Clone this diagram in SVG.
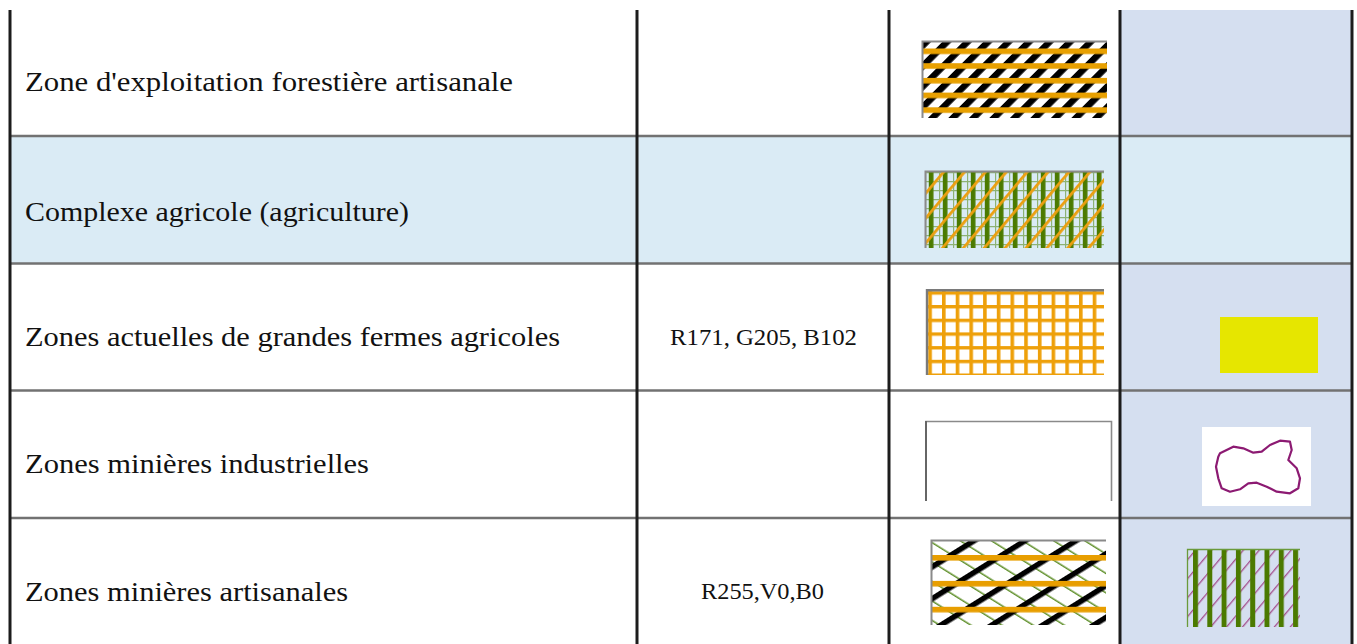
<svg xmlns="http://www.w3.org/2000/svg" width="1357" height="644" viewBox="0 0 1357 644">
<style>
.lbl{font-family:"Liberation Serif","Times New Roman",serif;font-size:28px;fill:#111}
.code{font-family:"Liberation Serif","Times New Roman",serif;font-size:24px;fill:#111}
.vline{stroke:#1c1c1c;stroke-width:3}
.hline{stroke:#727272;stroke-width:2.5}
.gb{stroke:#8a8a8a;stroke-width:2;fill:none}
</style>
<defs>
<pattern id="p1diag" patternUnits="userSpaceOnUse" width="14.5" height="10" patternTransform="rotate(45)"><rect width="6.5" height="10" fill="#000"/></pattern>
<pattern id="p1band" patternUnits="userSpaceOnUse" x="0" y="48.5" width="10" height="14.7"><rect width="10" height="5.6" fill="#e8a000"/></pattern>
<pattern id="p2grid" patternUnits="userSpaceOnUse" x="925" y="172" width="7" height="9"><path d="M0 0.6H7M0.6 0V9" stroke="#8db274" stroke-width="1.2" fill="none"/></pattern>
<pattern id="p2bar" patternUnits="userSpaceOnUse" x="928.8" y="0" width="14" height="10"><rect width="4.6" height="10" fill="#4b7a00"/></pattern>
<pattern id="p2diag" patternUnits="userSpaceOnUse" width="16" height="10" patternTransform="rotate(40)"><rect width="2.8" height="10" fill="#ec9f10"/></pattern>
<pattern id="p3grid" patternUnits="userSpaceOnUse" x="928.3" y="291.3" width="13.7" height="13.7"><rect width="3.6" height="13.7" fill="#eea00a"/><rect width="13.7" height="3.4" fill="#eea00a"/></pattern>
<pattern id="p5green" patternUnits="userSpaceOnUse" width="16.5" height="10" patternTransform="rotate(-58)"><rect width="1.5" height="10" fill="#5f8f2a"/></pattern>
<pattern id="p5black" patternUnits="userSpaceOnUse" width="27" height="10" patternTransform="rotate(58)"><rect width="5.5" height="10" fill="#000"/></pattern>
<pattern id="p5band" patternUnits="userSpaceOnUse" x="0" y="555" width="10" height="25.9"><rect width="10" height="5.6" fill="#e89e00"/></pattern>
<pattern id="p6bar" patternUnits="userSpaceOnUse" x="1193" y="0" width="14.3" height="10"><rect width="5" height="10" fill="#4b7a00"/></pattern>
<pattern id="p6diag" patternUnits="userSpaceOnUse" width="12.2" height="10" patternTransform="rotate(40)"><rect width="1.3" height="10" fill="#a5508e"/></pattern>
</defs>

<g id="backgrounds">
<rect x="1120" y="10" width="232" height="634" fill="#d5dff0"/>
<rect x="10" y="136" width="1342" height="127.5" fill="#daebf5"/>
</g>

<g id="row1">
<text class="lbl" x="25" y="91" textLength="488" lengthAdjust="spacingAndGlyphs">Zone d'exploitation forestière artisanale</text>
<rect x="922" y="41" width="185" height="77" fill="#fff"/>
<rect x="922" y="41" width="185" height="77" fill="url(#p1diag)"/>
<rect x="922" y="41" width="185" height="77" fill="url(#p1band)"/>
<path class="gb" d="M922.5 118V41.5H1107" stroke-width="1.6"/>
</g>

<g id="row2">
<text class="lbl" x="25" y="221" textLength="384" lengthAdjust="spacingAndGlyphs">Complexe agricole (agriculture)</text>
<rect x="925" y="171" width="179" height="77" fill="url(#p2grid)"/>
<rect x="925" y="171" width="179" height="77" fill="url(#p2bar)"/>
<rect x="925" y="171" width="179" height="77" fill="url(#p2diag)"/>
<path class="gb" d="M925.5 248V171.5H1104" stroke-width="1.4"/>
</g>

<g id="row3">
<text class="lbl" x="25" y="346" textLength="535" lengthAdjust="spacingAndGlyphs">Zones actuelles de grandes fermes agricoles</text>
<text class="code" x="670" y="345" textLength="187" lengthAdjust="spacingAndGlyphs">R171, G205, B102</text>
<rect x="926" y="289" width="178" height="86" fill="#fff"/>
<rect x="926" y="289" width="178" height="86" fill="url(#p3grid)"/>
<path d="M927 375V290.2H1104" stroke="#7a7a7a" stroke-width="2.4" fill="none"/>
<rect x="1220" y="317" width="98" height="56" fill="#e6e600"/>
</g>

<g id="row4">
<text class="lbl" x="25" y="473" textLength="344" lengthAdjust="spacingAndGlyphs">Zones minières industrielles</text>
<rect x="925" y="421" width="187" height="80" fill="#fff"/>
<path d="M926 501V421.5H1111.5V501" stroke="#8a8a8a" stroke-width="1.6" fill="none"/>
<line x1="926" y1="421" x2="926" y2="501" stroke="#666" stroke-width="2"/>
<rect x="1202" y="427" width="109" height="79" fill="#fff"/>
<path d="M1220 453.3L1233.3 446.7L1243.3 448.3L1253.3 452.7L1261.7 451.7L1270 445L1280 440.7L1290 441.7L1291.7 450L1288.3 460L1296.7 468.3L1300 478.3L1298.3 488.3L1290 493.3L1276.7 491.7L1266.7 486.7L1256.7 482.7L1248.3 483.3L1240 489.3L1230 491.7L1221.7 488.3L1218.3 478.3L1216 466.7L1218.3 456.7Z" fill="none" stroke="#8c1a72" stroke-width="2.2" stroke-linejoin="round"/>
</g>

<g id="row5">
<text class="lbl" x="25" y="601" textLength="323" lengthAdjust="spacingAndGlyphs">Zones minières artisanales</text>
<text class="code" x="701" y="599" textLength="123" lengthAdjust="spacingAndGlyphs">R255,V0,B0</text>
<rect x="931" y="540" width="175" height="85" fill="#fff"/>
<rect x="931" y="540" width="175" height="85" fill="url(#p5green)"/>
<rect x="931" y="540" width="175" height="85" fill="url(#p5black)"/>
<rect x="931" y="540" width="175" height="85" fill="url(#p5band)"/>
<path class="gb" d="M931.5 625V540.5H1106" stroke-width="1.6"/>
<rect x="1187" y="549" width="113" height="78" fill="url(#p6diag)"/>
<rect x="1187" y="549" width="113" height="78" fill="url(#p6bar)"/>
<path d="M1187.5 627V549.5H1300" stroke="#6a9a3a" stroke-width="1.3" fill="none"/>
</g>

<g id="grid">
<line class="hline" x1="10" y1="136" x2="1352" y2="136"/>
<line class="hline" x1="10" y1="263.5" x2="1352" y2="263.5"/>
<line class="hline" x1="10" y1="390.5" x2="1352" y2="390.5"/>
<line class="hline" x1="10" y1="518" x2="1352" y2="518"/>
<line class="vline" x1="10" y1="10" x2="10" y2="644"/>
<line class="vline" x1="637" y1="10" x2="637" y2="644"/>
<line class="vline" x1="889" y1="10" x2="889" y2="644"/>
<line class="vline" x1="1120" y1="10" x2="1120" y2="644"/>
<line class="vline" x1="1352" y1="10" x2="1352" y2="644"/>
</g>
</svg>
